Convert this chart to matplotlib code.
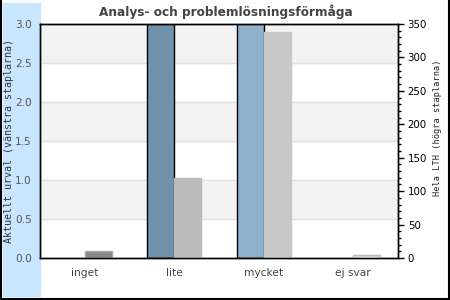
import numpy as np
import matplotlib.pyplot as plt
from matplotlib.patches import Rectangle
from matplotlib.lines import Line2D
from matplotlib.ticker import MultipleLocator

# data
kategorier = ["inget", "lite", "mycket", "ej svar"]
urval = [0, 4, 5, 0]          # vänstra staplarna (lite/mycket går över 3.0)
hela_lth = [10, 120, 338, 4]  # högra staplarna

farg_urval = ["#7092ad", "#7092ad", "#8fb1cc", "#8fb1cc"]
farg_hela = ["#888888", "#bbbbbb", "#c8c8c8", "#dddddd"]
kant_hela = ["#aaaaaa", "#bbbbbb", "#c8c8c8", "#bbbbbb"]

W, H = 450, 300
fig = plt.figure(figsize=(4.5, 3), dpi=100)

# ljusblå panel till vänster + ram
fig.patches.append(Rectangle((3 / W, 4 / H), 37 / W, 293 / H,
                             transform=fig.transFigure, color="#c8e6ff", zorder=-5))
for xs, ys in [([1 / W, 1 / W], [0, 1]), ([0, 1], [1.5 / H, 1.5 / H]),
               ([1 - 1.5 / W, 1 - 1.5 / W], [0, 1])]:
    fig.lines.append(Line2D(xs, ys, transform=fig.transFigure, color="black",
                            lw=1.5, zorder=5))

ax = fig.add_axes([40 / W, 1 - 258 / H, 358 / W, 234 / H])
ax2 = ax.twinx()

x = np.arange(len(kategorier))
bw = 0.3

# bakgrundsband
for lo in [0.5, 1.5, 2.5]:
    ax.axhspan(lo, lo + 0.5, color="#f2f2f2", zorder=0)
for g in np.arange(0.5, 3.0, 0.5):
    ax.axhline(g, color="#e0e0e0", lw=1, zorder=0.5)

for i in range(len(kategorier)):
    if urval[i] > 0:
        ax.bar(x[i] - bw, urval[i], bw, align="edge", color=farg_urval[i],
               edgecolor="black", linewidth=1, zorder=2)
    ax2.bar(x[i], hela_lth[i], bw, align="edge", color=farg_hela[i],
            edgecolor=kant_hela[i], linewidth=1, zorder=2)

ax.set_xlim(-0.5, 3.5)
ax.set_ylim(0, 3.0)
ax2.set_ylim(0, 350)
ax.set_yticks(np.arange(0, 3.01, 0.5))
ax.set_yticklabels([f"{v:.1f}" for v in np.arange(0, 3.01, 0.5)])
ax.set_xticks(x)
ax.set_xticklabels(kategorier)

ax.tick_params(axis="y", length=0, pad=6, labelsize=7.6, labelcolor="#555555")
ax.tick_params(axis="x", length=0, pad=7, labelsize=7.7, labelcolor="#444444")
ax2.yaxis.set_major_locator(MultipleLocator(50))
ax2.yaxis.set_minor_locator(MultipleLocator(10))
ax2.tick_params(axis="y", which="major", length=4, width=1, pad=3, labelsize=7.4)
ax2.tick_params(axis="y", which="minor", length=2, width=1)

for a in (ax, ax2):
    for s in a.spines.values():
        s.set_color("black")
        s.set_linewidth(1)

fig.text(226 / W, 1 - 12 / H, "Analys- och problemlösningsförmåga",
         ha="center", va="center", fontsize=8.7, fontweight="bold", color="#444444")
fig.text(9 / W, 1 - 141 / H, "Aktuellt urval (vänstra staplarna)", rotation=90,
         ha="center", va="center", fontsize=7.2, family="DejaVu Sans Mono", color="#333333")
fig.text(437 / W, 1 - 128 / H, "Hela LTH (högra staplarna)", rotation=90,
         ha="center", va="center", fontsize=6.2, family="DejaVu Sans Mono", color="#222222")

fig.savefig("out.png", dpi=100)
